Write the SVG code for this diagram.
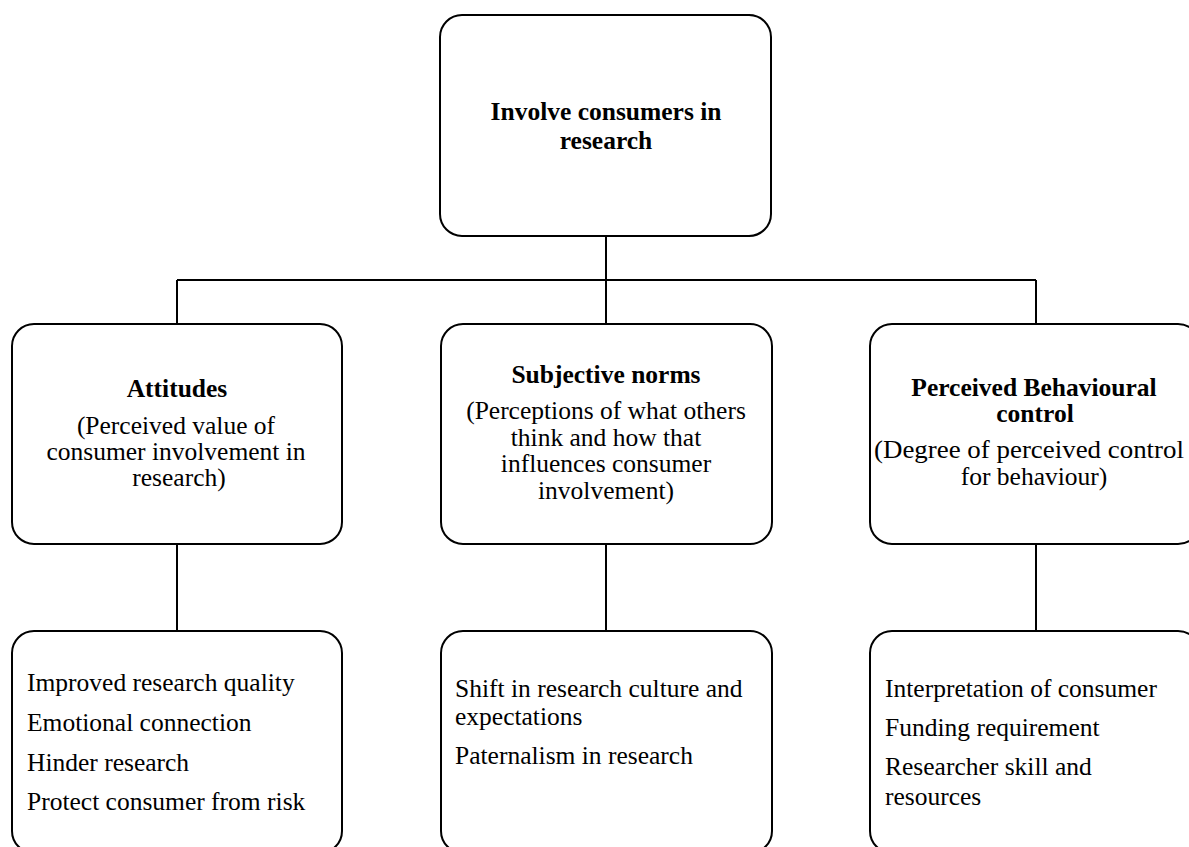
<svg xmlns="http://www.w3.org/2000/svg" width="1189" height="847" viewBox="0 0 1189 847">
<style>
.box{fill:#fff;stroke:#000;stroke-width:2}
.ln{fill:none;stroke:#000;stroke-width:2}
text{font-family:"Liberation Serif","Times New Roman",serif;font-size:25.5px;fill:#000}
.b{font-weight:bold}
.c{text-anchor:middle}
</style>
<rect width="1189" height="847" fill="#fff"/>
<g id="connectors">
<path class="ln" d="M606 236V280M177 280H1036M177 280V324M606 280V324M1036 280V324"/>
<path class="ln" d="M177 544V631M606 544V631M1036 544V631"/>
</g>
<g id="root">
<rect class="box" x="440" y="15" width="331" height="221" rx="22"/>
<text class="b c" x="606" y="120">Involve consumers in</text>
<text class="b c" x="606" y="149">research</text>
</g>
<g id="attitudes">
<rect class="box" x="12" y="324" width="330" height="220" rx="22"/>
<text class="b c" x="177" y="397">Attitudes</text>
<text class="c" x="176" y="434">(Perceived value of</text>
<text class="c" x="176" y="460">consumer involvement in</text>
<text class="c" x="179" y="486">research)</text>
</g>
<g id="norms">
<rect class="box" x="441" y="324" width="331" height="220" rx="22"/>
<text class="b c" x="606" y="383">Subjective norms</text>
<text class="c" x="606" y="419">(Perceptions of what others</text>
<text class="c" x="606" y="446">think and how that</text>
<text class="c" x="606" y="472">influences consumer</text>
<text class="c" x="606" y="499">involvement)</text>
</g>
<g id="control">
<rect class="box" x="870" y="324" width="330" height="220" rx="22"/>
<text class="b c" x="1034" y="396">Perceived Behavioural</text>
<text class="b c" x="1035" y="422">control</text>
<text class="c" x="1029" y="458" textLength="310" lengthAdjust="spacingAndGlyphs">(Degree of perceived control</text>
<text class="c" x="1034" y="485">for behaviour)</text>
</g>
<g id="attitudes-items">
<rect class="box" x="12" y="631" width="330" height="222" rx="22"/>
<text x="27" y="691">Improved research quality</text>
<text x="27" y="731">Emotional connection</text>
<text x="27" y="771">Hinder research</text>
<text x="27" y="810">Protect consumer from risk</text>
</g>
<g id="norms-items">
<rect class="box" x="441" y="631" width="331" height="222" rx="22"/>
<text x="455" y="697">Shift in research culture and</text>
<text x="455" y="725">expectations</text>
<text x="455" y="764">Paternalism in research</text>
</g>
<g id="control-items">
<rect class="box" x="870" y="631" width="330" height="222" rx="22"/>
<text x="885" y="697">Interpretation of consumer</text>
<text x="885" y="736">Funding requirement</text>
<text x="885" y="775">Researcher skill and</text>
<text x="885" y="805">resources</text>
</g>
</svg>
